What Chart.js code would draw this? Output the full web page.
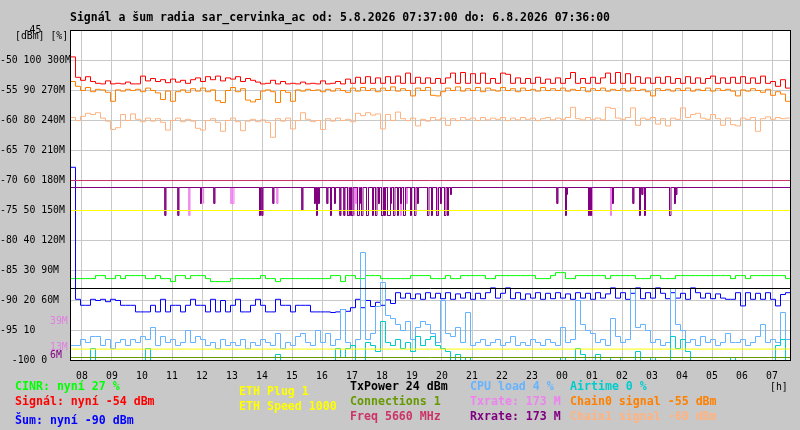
<!DOCTYPE html>
<html>
<head>
<meta charset="utf-8">
<script src="https://cdn.jsdelivr.net/npm/chart.js@4/dist/chart.umd.min.js"></script>
<style>
  html, body { margin: 0; padding: 0; background: #c8c8c8; }
  canvas { display: block; }
</style>
</head>
<body>
<canvas id="radio" width="800" height="430"></canvas>
<script>
// time axis: 5.8.2026 07:37 .. 6.8.2026 07:36, samples every 10 min
const start = 7 + 37 / 60;
const step = 1 / 6;

const hourTicks = [8, 9, 10, 11, 12, 13, 14, 15, 16, 17, 18, 19, 20, 21, 22, 23, 24, 25, 26, 27, 28, 29, 30, 31];
const hourLabels = ["08", "09", "10", "11", "12", "13", "14", "15", "16", "17", "18", "19",
  "20", "21", "22", "23", "00", "01", "02", "03", "04", "05", "06", "07"];

const dbmTicks = [-45, -50, -55, -60, -65, -70, -75, -80, -85, -90, -95, -100];
const yTickText = ["    -45", "-50 100 300M", "-55 90 270M", "-60 80 240M", "-65 70 210M", "-70 60 180M",
  "-75 50 150M", "-80 40 120M", "-85 30 90M", "-90 20 60M", "-95 10", "  -100 0"];

// Signal [dBm]
const signal = [
  -49.4,
  -52.8, -53.3, -52.7, -53.5, -53.8, -53.9, -53.4, -53.9, -53.8, -53.9, -53.6, -53.9,
  -53.9, -52.6, -53.4, -53.0, -53.5, -53.2, -53.7, -53.1, -53.6, -53.3, -53.8, -53.2,
  -52.9, -53.5, -52.7, -53.2, -52.6, -53.4, -52.9, -53.1, -52.7, -53.5, -53.0, -53.3,
  -53.6, -53.9, -53.8, -53.3, -53.9, -53.5, -53.9, -53.8, -53.9, -53.6, -53.9, -53.8,
  -53.9, -53.4, -53.9, -53.8, -53.5, -53.9, -53.1, -53.8, -52.8, -53.8, -52.7, -53.8,
  -52.9, -53.8, -52.7, -53.8, -52.6, -53.8, -52.1, -53.8, -52.8, -53.8, -52.9, -53.8,
  -53.0, -53.8, -52.9, -52.1, -53.8, -52.0, -53.8, -52.2, -53.8, -52.1, -53.8, -53.0,
  -53.8, -52.1, -52.3, -53.8, -52.9, -53.8, -53.0, -53.8, -52.8, -53.8, -53.1, -53.8,
  -52.9, -53.8, -53.0, -52.0, -53.8, -53.0, -53.8, -52.8, -53.8, -52.9, -52.1, -53.8,
  -52.0, -53.8, -52.2, -53.8, -52.7, -53.8, -52.9, -53.8, -52.8, -53.8, -52.7, -53.8,
  -53.0, -53.8, -52.7, -53.8, -52.9, -53.8, -53.0, -52.6, -53.8, -52.9, -53.8, -52.8,
  -53.8, -52.7, -53.8, -52.9, -53.8, -52.6, -53.8, -53.5, -54.3, -53.2, -54.6, -53.5
];

// Chain0 signal [dBm]
const chain0 = [
  -53.5,
  -54.3, -55.0, -54.5, -55.2, -54.8, -54.9, -55.3, -56.8, -54.9, -55.1, -54.8, -55.0,
  -54.8, -55.2, -54.6, -55.0, -55.4, -56.5, -55.1, -56.8, -55.2, -54.9, -55.3, -54.7,
  -55.1, -54.6, -55.2, -54.9, -56.7, -57.0, -55.0, -54.5, -55.2, -54.7, -56.6, -56.9,
  -56.5, -55.1, -54.9, -55.2, -57.0, -55.0, -55.3, -56.8, -54.9, -55.1, -54.8, -55.0,
  -54.9, -55.2, -54.8, -55.1, -54.7, -55.0, -55.3, -54.6, -55.1, -54.5, -55.0, -54.7,
  -55.2, -54.6, -55.0, -54.4, -55.1, -54.7, -55.0, -55.9, -54.6, -55.0, -54.5, -55.8,
  -55.9, -55.2, -54.6, -55.0, -54.4, -55.1, -54.7, -55.0, -54.5, -55.2, -54.6, -54.9,
  -55.1, -54.5, -55.0, -54.7, -55.2, -54.6, -55.0, -54.8, -55.1, -54.5, -55.0, -54.7,
  -55.0, -54.6, -55.1, -54.8, -55.0, -54.5, -55.2, -54.7, -55.0, -54.6, -55.1, -54.8,
  -55.0, -54.7, -55.1, -54.6, -55.0, -54.8, -55.2, -55.9, -54.7, -55.0, -54.8, -55.1,
  -54.7, -55.0, -54.6, -55.1, -54.8, -55.0, -54.6, -55.1, -54.7, -55.0, -54.8, -55.1,
  -55.9, -54.9, -55.1, -54.7, -55.0, -55.3, -54.8, -55.8, -55.2, -55.6, -56.8, -56.5
];

// Chain1 signal [dBm]
const chain1 = [
  -59.5,
  -60.0, -59.3, -58.8, -59.0, -58.7, -59.6, -60.1, -61.5, -61.2, -59.0, -60.0, -58.9,
  -59.8, -60.2, -59.6, -60.1, -59.7, -60.3, -61.6, -60.0, -59.6, -60.2, -59.8, -60.1,
  -61.3, -61.6, -60.0, -59.7, -60.3, -61.8, -60.0, -59.6, -60.2, -61.7, -60.1, -59.8,
  -60.2, -59.9, -60.3, -62.8, -59.7, -60.1, -59.6, -61.4, -60.0, -58.7, -59.8, -60.2,
  -60.0, -61.5, -59.7, -60.1, -59.6, -60.0, -59.8, -60.2, -58.8, -59.2, -58.7, -59.1,
  -58.9, -61.4, -59.0, -60.0, -58.6, -59.7, -60.0, -59.6, -60.9, -59.8, -60.1, -59.5,
  -59.9, -59.6, -60.8, -59.7, -60.0, -59.5, -59.8, -59.6, -60.0, -59.5, -59.9, -59.6,
  -59.8, -59.5, -60.0, -59.6, -59.9, -59.5, -59.8, -59.6, -60.0, -59.7, -59.5, -59.9,
  -59.6, -59.8, -59.5, -57.8, -59.7, -59.9, -59.5, -59.8, -59.6, -59.9, -57.8, -58.0,
  -59.6, -59.8, -59.5, -57.9, -60.8, -59.6, -59.8, -59.5, -60.6, -59.7, -60.9, -59.6,
  -59.8, -57.9, -59.5, -59.0, -58.8, -59.6, -59.8, -59.0, -59.7, -60.8, -59.6, -60.7,
  -60.9, -59.6, -59.8, -59.5, -61.8, -59.7, -59.4, -59.8, -59.5, -59.7, -59.6, -59.8
];

// Noise [dBm]
const noise = [
  -67.8,
  -89.8, -90.8, -90.8, -89.8, -90.0, -89.8, -90.2, -89.8, -90.0, -90.8, -90.8, -90.8,
  -91.9, -91.9, -91.9, -90.8, -91.9, -89.8, -91.9, -90.8, -90.8, -91.9, -90.8, -89.8,
  -90.8, -90.8, -91.9, -89.8, -91.9, -90.0, -91.9, -90.8, -89.8, -91.9, -91.9, -90.8,
  -89.8, -90.8, -91.9, -91.9, -89.8, -90.8, -90.8, -91.9, -90.8, -90.8, -90.8, -91.9,
  -91.9, -91.9, -91.9, -92.0, -91.9, -91.5, -91.8, -91.2, -89.8, -91.2, -90.0, -91.0,
  -90.3, -90.8, -89.9, -90.5, -88.7, -89.6, -88.8, -89.7, -88.9, -89.8, -88.7, -89.6,
  -88.8, -89.7, -88.7, -89.8, -88.9, -89.6, -88.7, -89.8, -88.8, -89.7, -88.7, -87.9,
  -89.6, -88.8, -87.9, -89.7, -88.7, -89.8, -88.9, -89.6, -88.7, -89.8, -88.8, -89.7,
  -88.7, -89.6, -88.9, -89.8, -88.7, -89.6, -88.8, -89.8, -88.7, -89.6, -88.9, -87.9,
  -89.6, -88.7, -89.8, -88.8, -87.9, -89.7, -88.7, -89.6, -87.9, -88.8, -89.7, -88.7,
  -89.6, -88.8, -89.8, -87.9, -88.7, -89.6, -88.8, -89.7, -88.9, -89.6, -89.8, -89.8,
  -88.7, -90.9, -88.7, -89.8, -88.8, -89.8, -88.7, -89.8, -90.9, -89.0, -88.7, -89.8
];

// CINR [%]
const cinr = [
  27.3,
  27.3, 27.3, 27.3, 27.3, 28.3, 28.3, 27.3, 27.3, 28.3, 27.3, 28.3, 28.3,
  28.3, 28.3, 27.3, 27.3, 28.3, 27.3, 27.3, 26.3, 28.3, 28.3, 27.3, 28.3,
  28.3, 28.3, 27.3, 26.3, 26.3, 26.3, 26.3, 27.3, 27.3, 27.3, 27.3, 27.3,
  27.3, 28.3, 27.3, 27.3, 26.3, 27.3, 27.3, 27.3, 27.3, 27.3, 27.3, 27.3,
  27.3, 27.3, 27.3, 28.3, 28.3, 26.3, 28.3, 28.3, 27.3, 27.3, 28.3, 28.3,
  28.3, 27.3, 27.3, 27.3, 27.3, 27.3, 27.3, 28.3, 28.3, 28.3, 28.3, 27.3,
  27.3, 27.3, 28.3, 27.3, 27.3, 28.3, 28.3, 28.3, 28.3, 28.3, 27.3, 27.3,
  28.3, 28.3, 28.3, 28.3, 28.3, 28.3, 28.3, 28.3, 27.3, 27.3, 27.3, 28.3,
  29.3, 29.3, 27.3, 27.3, 28.3, 28.3, 28.3, 28.3, 28.3, 28.3, 27.3, 28.3,
  28.3, 28.3, 28.3, 28.3, 27.3, 27.3, 27.3, 28.3, 28.3, 27.3, 27.3, 27.3,
  28.3, 28.3, 28.3, 28.3, 28.3, 28.3, 28.3, 28.3, 28.3, 28.3, 28.3, 27.3,
  28.3, 28.3, 27.3, 28.3, 28.3, 28.3, 28.3, 28.3, 28.3, 28.3, 27.3, 27.3
];

// CPU load [%]
const cpuLoad = [
  5,
  5, 7, 6, 8, 8, 5, 7, 4, 6, 7, 5, 7,
  6, 8, 7, 11, 5, 8, 6, 7, 5, 6, 10, 6,
  8, 7, 5, 6, 4, 7, 5, 6, 5, 7, 4, 6,
  5, 7, 6, 5, 9, 4, 6, 5, 8, 9, 6, 5,
  10, 6, 9, 5, 7, 17, 6, 5, 7, 36, 7, 9,
  18, 26, 15, 14, 12, 10, 13, 7, 11, 13, 12, 9,
  6, 20, 9, 8, 11, 6, 16, 5, 6, 7, 5, 6,
  7, 5, 6, 8, 5, 6, 5, 7, 6, 5, 7, 6,
  5, 11, 6, 7, 20, 12, 10, 9, 6, 7, 5, 14,
  8, 6, 7, 24, 11, 12, 10, 6, 7, 5, 6, 24,
  12, 10, 6, 7, 5, 8, 6, 7, 5, 6, 9, 6,
  6, 7, 5, 6, 8, 12, 6, 7, 6, 16, 7, 6
];

// Airtime [%]
const airtime = [
  0,
  0, 0, 0, 4, 0, 0, 0, 0, 0, 0, 0, 0,
  0, 0, 4, 0, 0, 0, 0, 0, 0, 0, 0, 0,
  0, 0, 0, 0, 0, 0, 0, 0, 0, 0, 0, 0,
  0, 0, 0, 0, 2, 0, 0, 0, 0, 0, 0, 0,
  0, 0, 0, 0, 4, 1, 4, 5, 0, 0, 6, 5,
  3, 13, 6, 5, 7, 4, 6, 3, 8, 5, 7, 8,
  5, 4, 3, 0, 2, 0, 1, 0, 0, 0, 0, 0,
  0, 0, 0, 0, 0, 0, 0, 0, 0, 0, 0, 0,
  0, 1, 0, 0, 4, 2, 0, 0, 2, 0, 0, 1,
  1, 0, 0, 0, 3, 0, 0, 1, 0, 0, 0, 8,
  4, 7, 3, 0, 0, 0, 0, 0, 0, 0, 0, 1,
  0, 0, 0, 0, 0, 0, 0, 0, 5, 7, 0, 0
];

// Rx / Tx rate [M]: steady 173 M with short drops [time, M, minutes]
const rateBase = 173;
const rxDrops = [
  ["10:46", 145], ["11:12", 145], ["11:57", 157], ["12:24", 157], ["13:55", 145], ["14:00", 145],
  ["14:22", 157], ["15:20", 150], ["15:45", 157], ["15:49", 145], ["15:53", 157], ["16:10", 157],
  ["16:17", 145], ["16:25", 157], ["16:36", 145], ["16:44", 145], ["16:51", 145, 3], ["16:55", 145],
  ["16:59", 145, 3], ["17:11", 145, 4], ["17:15", 157], ["17:19", 145, 3], ["17:29", 145, 4], ["17:41", 145],
  ["17:47", 145, 3], ["17:53", 157], ["17:59", 145, 4], ["18:05", 145], ["18:11", 145, 6], ["18:17", 157],
  ["18:23", 145, 3], ["18:31", 145], ["18:37", 157], ["18:43", 145, 4], ["18:57", 145], ["19:05", 145, 3],
  ["19:11", 157], ["19:31", 145, 3], ["19:39", 145], ["19:49", 145, 4], ["19:57", 157], ["20:05", 145, 3],
  ["20:11", 145], ["20:17", 166], ["23:50", 157], ["00:07", 145], ["00:09", 166], ["00:53", 145],
  ["00:57", 145], ["01:41", 157], ["02:22", 157], ["02:35", 145], ["02:40", 166], ["02:45", 145],
  ["03:35", 145, 3], ["03:45", 157], ["03:48", 166]
];
const txDrops = [
  ["11:34", 145], ["12:02", 157], ["12:58", 157], ["13:02", 157], ["14:30", 157], ["17:03", 145],
  ["17:07", 157], ["18:37", 145], ["18:49", 157], ["19:51", 145], ["00:59", 145], ["01:37", 145]
];

// constant lines
const txPower = 24;        // dBm, drawn on the % scale
const connections = 1;     // drawn on the % scale
const freqLine = -70;      // Freq 5660 MHz marker level
const ethLines = [-75, -98.1];

// unit helpers: everything lands on the dBm axis
const pct = v => v / 2 - 100;
const mbit = v => v / 6 - 100;

function sampled(arr, conv) {
  return arr.map((v, i) => ({ x: start + i * step, y: conv ? conv(v) : v }));
}
function flat(v) {
  return [{ x: start, y: v }, { x: start + 24, y: v }];
}
function hourOf(t) {
  const p = t.split(":");
  let h = +p[0] + p[1] / 60;
  if (h < start) h += 24;
  return h;
}
function drops(list) {
  const base = mbit(rateBase);
  const pts = [{ x: start, y: base }];
  list.forEach(function (d) {
    const h = hourOf(d[0]);
    const w = (d[2] || 2) / 60;
    pts.push({ x: h, y: base }, { x: h, y: mbit(d[1]) }, { x: h + w, y: mbit(d[1]) }, { x: h + w, y: base });
  });
  pts.push({ x: start + 24, y: base });
  return pts;
}

function line(data, color, stepped) {
  return {
    data: data,
    borderColor: color,
    backgroundColor: color,
    borderWidth: 1,
    pointRadius: 0,
    fill: false,
    stepped: stepped ? "before" : false,
    tension: 0,
  };
}

const MONO = "'DejaVu Sans Mono', monospace";

const frame = {
  id: "frame",
  beforeDraw(chart) {
    const c = chart.ctx, a = chart.chartArea;
    c.save();
    c.fillStyle = "#c8c8c8";
    c.fillRect(0, 0, chart.width, chart.height);
    c.fillStyle = "#ffffff";
    c.fillRect(a.left, a.top, a.right - a.left, a.bottom - a.top);
    c.restore();
  },
  afterDatasetsDraw(chart) {
    const c = chart.ctx, a = chart.chartArea;
    c.save();
    c.strokeStyle = "#000000";
    c.lineWidth = 1;
    c.strokeRect(a.left, a.top, a.right - a.left, a.bottom - a.top);
    c.restore();
  },
  afterDraw(chart) {
    const c = chart.ctx, y = chart.scales.y;
    c.save();
    c.textBaseline = "middle";
    c.textAlign = "left";

    c.font = "bold 11.5px " + MONO;
    c.fillStyle = "#000000";
    c.fillText("Signál a šum radia sar_cervinka_ac od: 5.8.2026 07:37:00 do: 6.8.2026 07:36:00", 70, 18);

    c.font = "9.8px " + MONO;
    c.fillText("[dBm] [%]", 15, 36);
    c.fillText("[h]", 770, 387);
    c.fillStyle = "#e080e0";
    c.fillText("39M", 50, y.getPixelForValue(mbit(39)));
    c.fillText("13M", 50, y.getPixelForValue(mbit(13)));
    c.fillStyle = "#800080";
    c.fillText("6M", 50, y.getPixelForValue(mbit(6)) + 1);

    c.font = "bold 11.6px " + MONO;
    const legend = [
      [15, 386.5, "#00ff00", "CINR: nyní 27 %"],
      [15, 401.5, "#ff0000", "Signál: nyní -54 dBm"],
      [15, 421, "#0000ff", "Šum: nyní -90 dBm"],
      [239, 392, "#ffff00", "ETH Plug 1"],
      [239, 407, "#ffff00", "ETH Speed 1000"],
      [350, 386.5, "#000000", "TxPower 24 dBm"],
      [350, 402, "#669900", "Connections 1"],
      [350, 417, "#cc3366", "Freq 5660 MHz"],
      [470, 386.5, "#66b3ff", "CPU load 4 %"],
      [470, 402, "#ee82ee", "Txrate: 173 M"],
      [470, 417, "#800080", "Rxrate: 173 M"],
      [570, 386.5, "#00cccc", "Airtime 0 %"],
      [570, 402, "#ff8000", "Chain0 signal -55 dBm"],
      [570, 417, "#ffb380", "Chain1 signal -60 dBm"],
    ];
    legend.forEach(function (l) {
      c.fillStyle = l[2];
      c.fillText(l[3], l[0], l[1]);
    });
    c.restore();
  },
};

const ctx = document.getElementById("radio").getContext("2d");
const radioChart = new Chart(ctx, {
  type: "line",
  data: {
    datasets: [
      line(flat(ethLines[0]), "#ffff00"),
      line(flat(ethLines[1]), "#ffff00"),
      line(flat(pct(connections)), "#669900"),
      line(flat(pct(txPower)), "#000000"),
      line(flat(freqLine), "#cc3366"),
      line(drops(rxDrops), "#800080"),
      line(drops(txDrops), "#ee82ee"),
      line(sampled(airtime, pct), "#00cccc", true),
      line(sampled(cpuLoad, pct), "#66b3ff", true),
      line(sampled(noise), "#0000ff", true),
      line(sampled(cinr, pct), "#00ff00", true),
      line(sampled(signal), "#ff0000", true),
      line(sampled(chain0), "#ff8000", true),
      line(sampled(chain1), "#ffb380", true),
    ],
  },
  options: {
    responsive: false,
    devicePixelRatio: 1,
    animation: false,
    events: [],
    layout: { padding: { left: 0, top: 30.5, right: 9.5, bottom: 0 } },
    plugins: { legend: { display: false }, tooltip: { enabled: false }, title: { display: false } },
    scales: {
      x: {
        type: "linear",
        min: start,
        max: start + 24,
        afterBuildTicks: (s) => { s.ticks = hourTicks.map((v) => ({ value: v })); },
        afterFit: (s) => { s.height = 69.5; },
        grid: { color: "#c8c8c8", drawTicks: false },
        border: { display: false },
        ticks: {
          autoSkip: false,
          maxRotation: 0,
          padding: 10,
          color: "#000000",
          font: { family: MONO, size: 9.8 },
          callback: (v, i) => hourLabels[i],
        },
      },
      y: {
        type: "linear",
        min: -100,
        max: -45,
        afterBuildTicks: (s) => { s.ticks = dbmTicks.map((v) => ({ value: v })); },
        afterFit: (s) => { s.width = 70.5; },
        grid: { color: "#c8c8c8", drawTicks: false },
        border: { display: false },
        ticks: {
          crossAlign: "far",
          padding: 0,
          color: "#000000",
          font: { family: MONO, size: 9.8 },
          callback: (v, i) => yTickText[i],
        },
      },
    },
  },
  plugins: [frame],
});
</script>
</body>
</html>
